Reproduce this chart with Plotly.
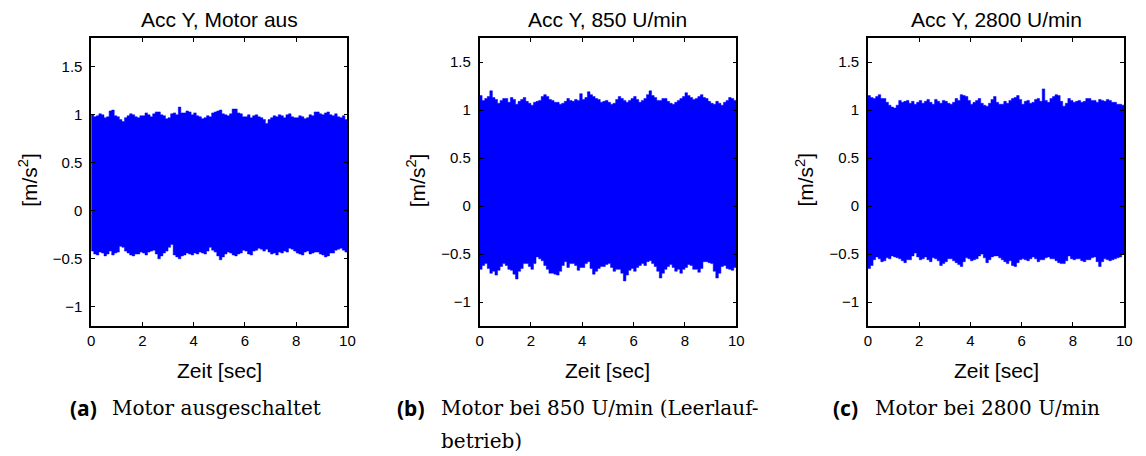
import plotly.graph_objects as go

# time grid (s) for the envelopes, 0.1 s steps
t = [0.0, 0.1, 0.2, 0.3, 0.4, 0.5, 0.6, 0.7, 0.8, 0.9,
     1.0, 1.1, 1.2, 1.3, 1.4, 1.5, 1.6, 1.7, 1.8, 1.9,
     2.0, 2.1, 2.2, 2.3, 2.4, 2.5, 2.6, 2.7, 2.8, 2.9,
     3.0, 3.1, 3.2, 3.3, 3.4, 3.5, 3.6, 3.7, 3.8, 3.9,
     4.0, 4.1, 4.2, 4.3, 4.4, 4.5, 4.6, 4.7, 4.8, 4.9,
     5.0, 5.1, 5.2, 5.3, 5.4, 5.5, 5.6, 5.7, 5.8, 5.9,
     6.0, 6.1, 6.2, 6.3, 6.4, 6.5, 6.6, 6.7, 6.8, 6.9,
     7.0, 7.1, 7.2, 7.3, 7.4, 7.5, 7.6, 7.7, 7.8, 7.9,
     8.0, 8.1, 8.2, 8.3, 8.4, 8.5, 8.6, 8.7, 8.8, 8.9,
     9.0, 9.1, 9.2, 9.3, 9.4, 9.5, 9.6, 9.7, 9.8, 9.9,
     10.0]

# Panel (a): motor off - upper / lower envelope of Acc Y [m/s^2]
a_upper = [1.00, 0.98, 0.99, 1.01, 1.00, 0.97, 0.98, 1.04, 1.05, 0.99,
           0.98, 0.95, 0.93, 0.97, 0.99, 1.01, 1.00, 0.98, 0.97, 0.99,
           0.99, 1.02, 1.00, 0.98, 1.01, 1.03, 1.03, 1.00, 0.99, 0.96,
           0.97, 1.01, 1.02, 1.00, 1.08, 1.02, 1.02, 1.04, 1.03, 1.00,
           1.02, 0.99, 0.98, 0.96, 0.97, 0.99, 0.98, 1.02, 1.03, 1.04,
           1.05, 1.01, 1.00, 0.99, 1.01, 1.06, 1.06, 1.02, 1.01, 0.98,
           0.98, 1.00, 0.97, 0.99, 1.00, 0.98, 0.97, 0.95, 0.91, 0.95,
           0.97, 0.99, 0.98, 1.00, 0.99, 0.97, 1.00, 1.01, 0.98, 0.97,
           0.97, 0.99, 0.98, 0.96, 0.97, 1.00, 0.99, 1.03, 1.03, 1.01,
           1.00, 1.02, 1.03, 1.00, 0.99, 1.01, 0.98, 0.97, 0.99, 0.95,
           0.93]
a_lower = [-0.42, -0.45, -0.46, -0.43, -0.44, -0.47, -0.45, -0.42, -0.46, -0.44,
           -0.43, -0.37, -0.38, -0.42, -0.44, -0.46, -0.47, -0.45, -0.45, -0.43,
           -0.44, -0.46, -0.43, -0.42, -0.41, -0.45, -0.50, -0.47, -0.44, -0.42,
           -0.38, -0.35, -0.46, -0.48, -0.50, -0.47, -0.46, -0.44, -0.45, -0.46,
           -0.44, -0.45, -0.43, -0.44, -0.45, -0.42, -0.38, -0.41, -0.43, -0.47,
           -0.51, -0.48, -0.45, -0.43, -0.44, -0.46, -0.47, -0.45, -0.44, -0.41,
           -0.42, -0.45, -0.46, -0.42, -0.41, -0.39, -0.40, -0.42, -0.40, -0.43,
           -0.45, -0.44, -0.46, -0.43, -0.44, -0.42, -0.43, -0.39, -0.40, -0.42,
           -0.44, -0.45, -0.46, -0.43, -0.42, -0.45, -0.44, -0.43, -0.43, -0.45,
           -0.46, -0.48, -0.47, -0.44, -0.44, -0.41, -0.40, -0.39, -0.41, -0.43,
           -0.45]

# Panel (b): 850 U/min
b_upper = [1.15, 1.10, 1.12, 1.14, 1.20, 1.13, 1.11, 1.07, 1.10, 1.12,
           1.12, 1.08, 1.13, 1.11, 1.06, 1.09, 1.11, 1.13, 1.09, 1.07,
           1.05, 1.08, 1.09, 1.10, 1.14, 1.16, 1.14, 1.11, 1.10, 1.08,
           1.08, 1.06, 1.07, 1.09, 1.12, 1.10, 1.09, 1.11, 1.10, 1.17,
           1.11, 1.13, 1.19, 1.16, 1.14, 1.12, 1.11, 1.08, 1.09, 1.10,
           1.08, 1.06, 1.07, 1.11, 1.14, 1.12, 1.10, 1.08, 1.10, 1.12,
           1.14, 1.11, 1.08, 1.10, 1.12, 1.16, 1.20, 1.15, 1.13, 1.10,
           1.10, 1.12, 1.12, 1.09, 1.07, 1.06, 1.08, 1.10, 1.12, 1.14,
           1.18, 1.15, 1.13, 1.11, 1.12, 1.14, 1.16, 1.13, 1.12, 1.09,
           1.07, 1.06, 1.09, 1.07, 1.05, 1.08, 1.10, 1.13, 1.12, 1.10,
           1.11]
b_lower = [-0.66, -0.62, -0.60, -0.65, -0.70, -0.68, -0.72, -0.67, -0.63, -0.60,
           -0.62, -0.66, -0.67, -0.71, -0.76, -0.68, -0.65, -0.60, -0.60, -0.63,
           -0.66, -0.60, -0.53, -0.55, -0.57, -0.62, -0.66, -0.70, -0.70, -0.71,
           -0.72, -0.68, -0.62, -0.58, -0.64, -0.60, -0.60, -0.62, -0.67, -0.64,
           -0.64, -0.60, -0.58, -0.65, -0.71, -0.68, -0.65, -0.63, -0.63, -0.61,
           -0.60, -0.64, -0.68, -0.66, -0.66, -0.70, -0.78, -0.72, -0.67, -0.65,
           -0.68, -0.64, -0.62, -0.60, -0.62, -0.58, -0.57, -0.60, -0.63, -0.68,
           -0.75, -0.70, -0.66, -0.63, -0.61, -0.64, -0.68, -0.66, -0.70, -0.66,
           -0.64, -0.61, -0.62, -0.66, -0.66, -0.69, -0.65, -0.58, -0.58, -0.59,
           -0.60, -0.68, -0.75, -0.70, -0.63, -0.62, -0.65, -0.66, -0.67, -0.64,
           -0.69]

# Panel (c): 2800 U/min
c_upper = [1.15, 1.13, 1.12, 1.14, 1.16, 1.12, 1.12, 1.08, 1.05, 1.03,
           1.02, 1.05, 1.10, 1.08, 1.09, 1.10, 1.07, 1.09, 1.06, 1.08,
           1.10, 1.07, 1.09, 1.11, 1.08, 1.06, 1.11, 1.09, 1.07, 1.10,
           1.09, 1.07, 1.06, 1.08, 1.12, 1.10, 1.16, 1.15, 1.14, 1.10,
           1.06, 1.08, 1.10, 1.12, 1.07, 1.05, 1.04, 1.07, 1.11, 1.14,
           1.08, 1.06, 1.06, 1.09, 1.07, 1.10, 1.12, 1.13, 1.15, 1.11,
           1.06, 1.09, 1.10, 1.07, 1.08, 1.11, 1.12, 1.09, 1.22, 1.10,
           1.08, 1.12, 1.14, 1.16, 1.15, 1.09, 1.04, 1.07, 1.12, 1.10,
           1.08, 1.09, 1.10, 1.08, 1.09, 1.12, 1.12, 1.10, 1.10, 1.08,
           1.11, 1.10, 1.09, 1.11, 1.10, 1.08, 1.08, 1.06, 1.06, 1.05,
           1.06]
c_lower = [-0.65, -0.62, -0.56, -0.53, -0.55, -0.58, -0.57, -0.54, -0.55, -0.52,
           -0.53, -0.54, -0.55, -0.57, -0.59, -0.56, -0.56, -0.52, -0.49, -0.53,
           -0.56, -0.55, -0.53, -0.56, -0.58, -0.54, -0.55, -0.57, -0.62, -0.60,
           -0.58, -0.55, -0.55, -0.57, -0.59, -0.61, -0.63, -0.58, -0.54, -0.55,
           -0.57, -0.56, -0.55, -0.52, -0.50, -0.54, -0.59, -0.56, -0.53, -0.52,
           -0.52, -0.54, -0.56, -0.58, -0.60, -0.57, -0.62, -0.63, -0.59, -0.56,
           -0.55, -0.56, -0.57, -0.55, -0.53, -0.55, -0.58, -0.56, -0.56, -0.54,
           -0.53, -0.55, -0.55, -0.57, -0.59, -0.60, -0.60, -0.57, -0.52, -0.55,
           -0.56, -0.55, -0.55, -0.57, -0.58, -0.56, -0.56, -0.54, -0.53, -0.58,
           -0.63, -0.58, -0.55, -0.56, -0.57, -0.56, -0.55, -0.54, -0.53, -0.50,
           -0.45]

titles = ["Acc Y, Motor aus", "Acc Y, 850 U/min", "Acc Y, 2800 U/min"]
x_ticks = [0, 2, 4, 6, 8, 10]
y_ticks = [-1, -0.5, 0, 0.5, 1, 1.5]
y_ticktext = ["\u22121", "\u22120.5", "0", "0.5", "1", "1.5"]
y_ranges = [[-1.2, 1.8], [-1.25, 1.75], [-1.25, 1.75]]
x_label = "Zeit [sec]"
y_label = "[m/s<sup>2</sup>]"
captions = [("(a)", ["Motor ausgeschaltet"]),
            ("(b)", ["Motor bei 850 U/min (Leerlauf-", "betrieb)"]),
            ("(c)", ["Motor bei 2800 U/min"])]

W, H = 1146, 456
OFF = 8  # page body margin of the html page
x_doms = [(88, 347), (480.5, 740), (873, 1132)]
y_dom = (38, 326)
cap_x = [(65, 107), (395, 440), (836, 878)]


def px(v):
    return (v - OFF) / W


def py(v):
    return 1 - (v - OFF) / H


fig = go.Figure()
uppers = [a_upper, b_upper, c_upper]
lowers = [a_lower, b_lower, c_lower]
sans = "Liberation Sans, Arial, sans-serif"

for i in range(3):
    xa = "x" if i == 0 else f"x{i+1}"
    ya = "y" if i == 0 else f"y{i+1}"
    fig.add_trace(go.Scatter(x=t, y=lowers[i], mode="lines", line=dict(color="#0000ff", width=0.5, shape="hv"),
                             xaxis=xa, yaxis=ya, showlegend=False, hoverinfo="skip"))
    fig.add_trace(go.Scatter(x=t, y=uppers[i], mode="lines", line=dict(color="#0000ff", width=0.5, shape="hv"),
                             fill="tonexty", fillcolor="#0000ff",
                             xaxis=xa, yaxis=ya, showlegend=False, hoverinfo="skip"))
    xk = "xaxis" if i == 0 else f"xaxis{i+1}"
    yk = "yaxis" if i == 0 else f"yaxis{i+1}"
    x0, x1 = x_doms[i]
    fig.update_layout(**{
        xk: dict(domain=[px(x0), px(x1)], range=[0, 10], anchor=ya, tickvals=x_ticks,
                 ticks="inside", ticklen=4, tickcolor="black", showline=True, linecolor="black",
                 linewidth=1.5, mirror="ticks", showgrid=False, zeroline=False,
                 tickfont=dict(family=sans, size=15, color="black")),
        yk: dict(domain=[py(y_dom[1]), py(y_dom[0])], range=y_ranges[i], anchor=xa,
                 tickvals=y_ticks, ticktext=y_ticktext, ticklabelstandoff=4,
                 ticks="inside", ticklen=4, tickcolor="black", showline=True, linecolor="black",
                 linewidth=1.5, mirror="ticks", showgrid=False, zeroline=False,
                 tickfont=dict(family=sans, size=15, color="black")),
    })
    cx = px((x0 + x1) / 2)
    fig.add_annotation(text=titles[i], x=cx, y=py(19), xref="paper", yref="paper", borderpad=0,
                       showarrow=False, font=dict(family=sans, size=21, color="black"),
                       xanchor="center", yanchor="middle")
    fig.add_annotation(text=x_label, x=cx, y=py(370), xref="paper", yref="paper",
                       showarrow=False, font=dict(family=sans, size=21, color="black"),
                       xanchor="center", yanchor="middle")
    fig.add_annotation(text=y_label, x=px(x0 - 64), y=py(180), xref="paper", yref="paper",
                       showarrow=False, textangle=-90, font=dict(family=sans, size=21, color="black"),
                       xanchor="center", yanchor="middle")
    lab, lines = captions[i]
    fig.add_annotation(text=f"<b>{lab}</b>", x=px(cap_x[i][0]), y=py(408), xref="paper", yref="paper",
                       showarrow=False, font=dict(family="Noto Sans, sans-serif", size=21, color="black"),
                       xanchor="left", yanchor="middle")
    for j, ln in enumerate(lines):
        fig.add_annotation(text=ln, x=px(cap_x[i][1]), y=py(408 + 33 * j), xref="paper", yref="paper",
                           showarrow=False, font=dict(family="DejaVu Serif, serif", size=20, color="black"),
                           xanchor="left", yanchor="middle")

fig.update_layout(width=W, height=H, margin=dict(l=0, r=0, t=0, b=0),
                  paper_bgcolor="white", plot_bgcolor="white")
fig.write_html("out.html")
